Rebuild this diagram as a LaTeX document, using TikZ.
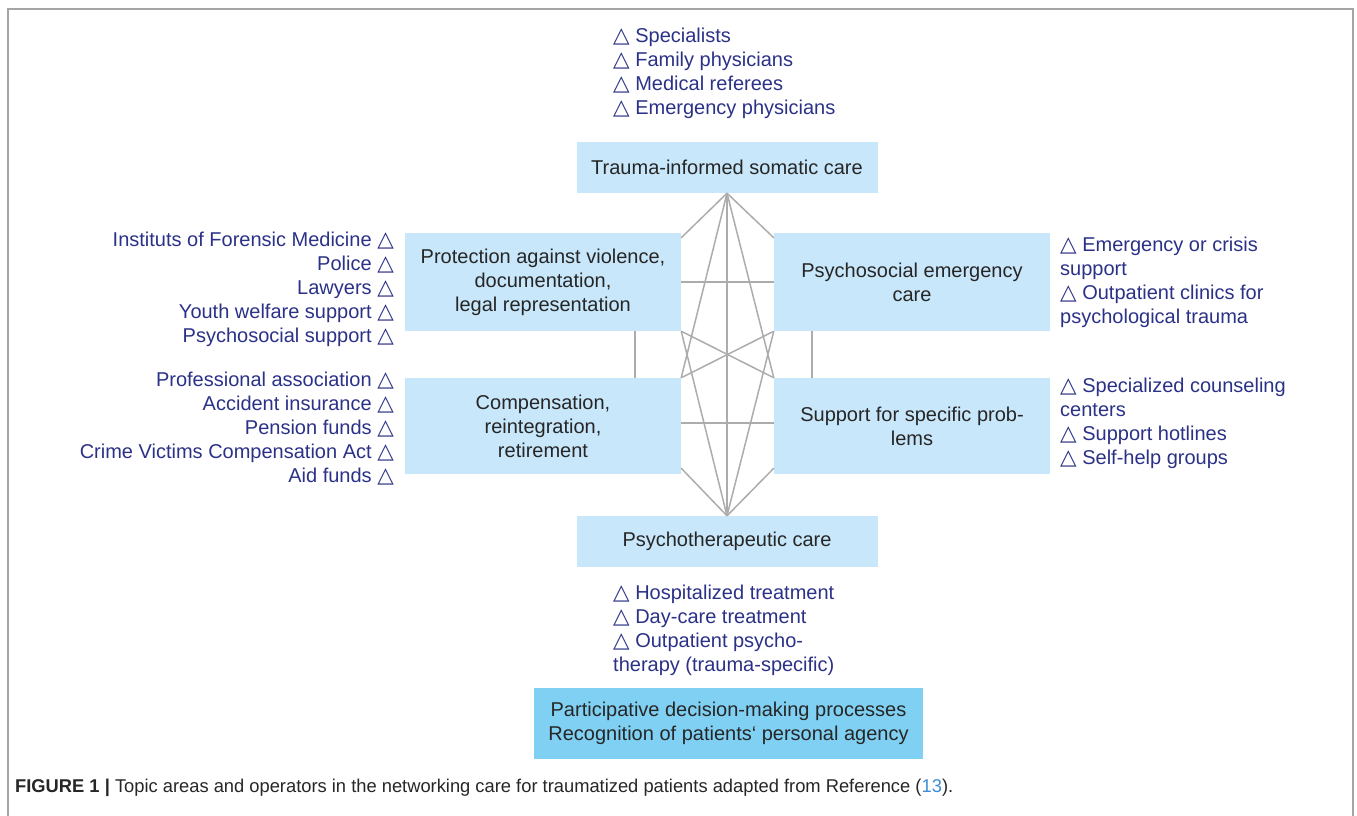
\documentclass[tikz,border=0pt]{standalone}
\usepackage{fontspec}
\setmainfont{Liberation Sans}
\newfontfamily\symf{DejaVu Sans}
\usetikzlibrary{calc}
\definecolor{boxblue}{RGB}{200,231,250}
\definecolor{deepblue}{RGB}{128,208,243}
\definecolor{navy}{RGB}{43,49,135}
\definecolor{linegray}{RGB}{172,172,172}
\definecolor{framegray}{RGB}{165,165,165}
\definecolor{linkblue}{RGB}{60,140,210}
\newcommand\tri{{\symf\fontsize{21.5}{24}\selectfont △}}
\begin{document}
\begin{tikzpicture}[x=1pt,y=-1pt,
  box/.style={fill=boxblue, draw=none, inner sep=0pt, align=center, text=black!85,
    font=\fontsize{20}{24}\selectfont},
  list/.style={inner sep=0pt, text=navy, font=\fontsize{20}{24}\selectfont},
  link/.style={draw=linegray, line width=1.5pt}]
\useasboundingbox (0,0) rectangle (1357,816);
\draw[framegray, line width=1.5pt] (8,816) -- (8,9) -- (1353,9) -- (1353,816);

% boxes
\node[box, minimum width=301, minimum height=51] (T) at (727,167.5) {Trauma-informed somatic care};
\node[box, minimum width=301, minimum height=51] (B) at (727,541.5) {Psychotherapeutic care};
\node[box, minimum width=276, minimum height=98] (LT) at (543,282) {Protection against violence,\\documentation,\\legal representation};
\node[box, minimum width=276, minimum height=98] (RT) at (912,282) {Psychosocial emergency\\care};
\node[box, minimum width=276, minimum height=96] (LB) at (543,426) {Compensation,\\reintegration,\\retirement};
\node[box, minimum width=276, minimum height=96] (RB) at (912,426) {Support for specific prob-\\lems};
\node[box, fill=deepblue, minimum width=389, minimum height=71] (P) at (728.5,723.5) {Participative decision-making processes\\Recognition of patients‘ personal agency};

% connectors
\draw[link] (T.south) -- ($(LT.north east)+(0,5)$);
\draw[link] (T.south) -- ($(RT.north west)+(0,5)$);
\draw[link] (T.south) -- (B.north);
\draw[link] (T.south) -- (LB.north east);
\draw[link] (T.south) -- (RB.north west);
\draw[link] (B.north) -- (LT.south east);
\draw[link] (B.north) -- (RT.south west);
\draw[link] (B.north) -- ($(LB.south east)+(0,-6)$);
\draw[link] (B.north) -- ($(RB.south west)+(0,-6)$);
\draw[link] (LT.east) -- (RT.west);
\draw[link] ($(LB.east)+(0,-3)$) -- ($(RB.west)+(0,-3)$);
\draw[link] ([xshift=92pt]LT.south) -- ([xshift=92pt]LB.north);
\draw[link] ([xshift=-100pt]RT.south) -- ([xshift=-100pt]RB.north);
\draw[link] (LT.south east) -- (RB.north west);
\draw[link] (RT.south west) -- (LB.north east);

% operator lists
\node[list, align=left, anchor=north west] (top) at (613,27.5)
  {\tri\ Specialists\\\tri\ Family physicians\\\tri\ Medical referees\\\tri\ Emergency physicians};
\node[list, align=right, anchor=north east] (left1) at (394,231.5)
  {Instituts of Forensic Medicine \tri\\Police \tri\\Lawyers \tri\\Youth welfare support \tri\\Psychosocial support \tri};
\node[list, align=right, anchor=north east] (left2) at (394,371.5)
  {Professional association \tri\\Accident insurance \tri\\Pension funds \tri\\Crime Victims Compensation Act \tri\\Aid funds \tri};
\node[list, align=left, anchor=north west] (right1) at (1060,236.5)
  {\tri\ Emergency or crisis\\support\\\tri\ Outpatient clinics for\\psychological trauma};
\node[list, align=left, anchor=north west] (right2) at (1060,377.5)
  {\tri\ Specialized counseling\\centers\\\tri\ Support hotlines\\\tri\ Self-help groups};
\node[list, align=left, anchor=north west] (bottom) at (613,584.5)
  {\tri\ Hospitalized treatment\\\tri\ Day-care treatment\\\tri\ Outpatient psycho-\\therapy (trauma-specific)};

% caption
\node[inner sep=0pt, anchor=base west, font=\fontsize{18.5}{22}\selectfont, text=black!85] (cap) at (15,792)
  {\resizebox{938pt}{\height}{\textbf{FIGURE 1 |} Topic areas and operators in the networking care for traumatized patients adapted from Reference (\textcolor{linkblue}{13}).}};
\end{tikzpicture}
\end{document}
